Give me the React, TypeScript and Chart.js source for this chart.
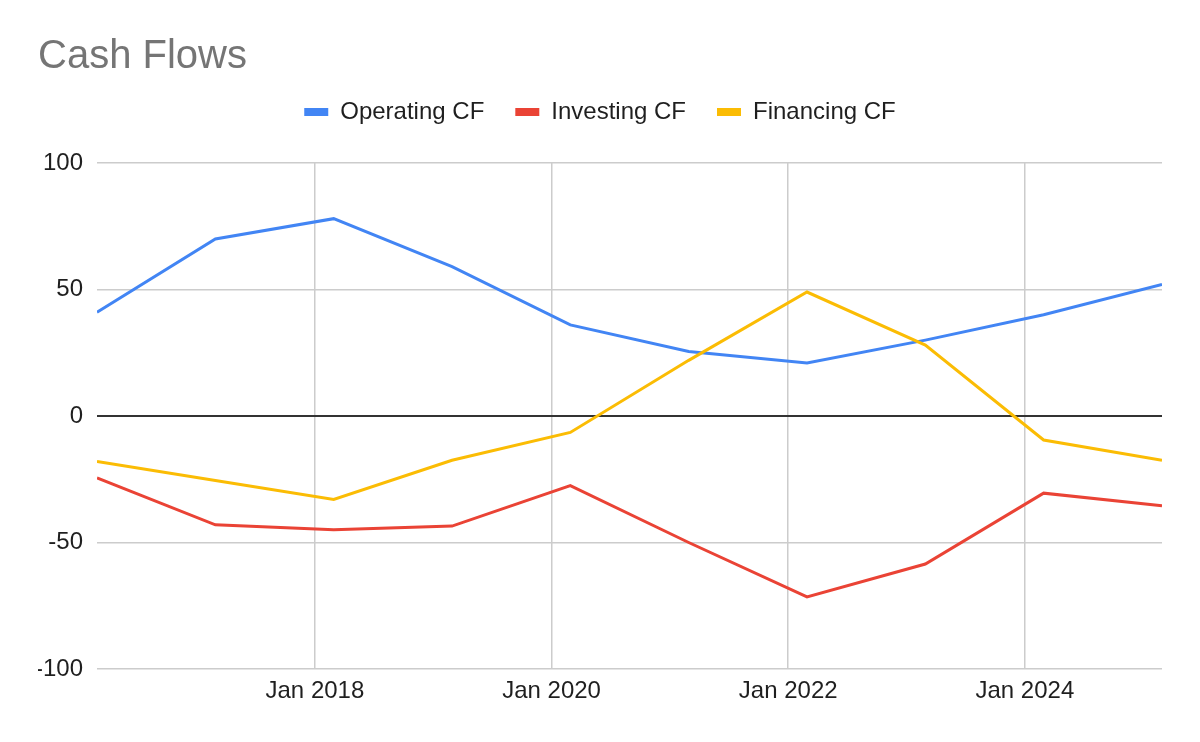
import { useEffect, useRef } from 'react';
import { Chart, registerables } from 'chart.js';

Chart.register(...registerables);

// fiscal year-end dates, one point per year
const periods = [
  '2016-02-28', '2017-02-28', '2018-02-28', '2019-02-28', '2020-02-28',
  '2021-02-28', '2022-02-28', '2023-02-28', '2024-02-28', '2025-02-28',
];
const operatingCF = [41, 70, 78, 59, 36, 25.5, 21, 30, 40, 52];
const investingCF = [-24.5, -43, -45, -43.5, -27.5, -50, -71.5, -58.5, -30.5, -35.5];
const financingCF = [-18, -25.5, -33, -17.5, -6.5, 22, 49, 28, -9.5, -17.5];

const xTickYears = [2018, 2020, 2022, 2024];
const xTickLabels = ['Jan 2018', 'Jan 2020', 'Jan 2022', 'Jan 2024'];
const yTicks = [-100, -50, 0, 50, 100];

const palette = {
  operating: '#4285f4',
  investing: '#ea4335',
  financing: '#fbbc04',
  grid: '#cccccc',
  zero: '#333333',
  text: '#1f1f1f',
  title: '#757575',
};

const FONT = '"Liberation Sans", Arial, sans-serif';

function toYear(iso: string): number {
  const [y, m, d] = iso.split('-').map(Number);
  const start = Date.UTC(y, 0, 1);
  const end = Date.UTC(y + 1, 0, 1);
  return y + (Date.UTC(y, m - 1, d) - start) / (end - start);
}

function points(values: number[]) {
  return values.map((v, i) => ({ x: toYear(periods[i]), y: v }));
}

export default function App(): JSX.Element {
  const canvasRef = useRef<HTMLCanvasElement | null>(null);

  useEffect(() => {
    document.body.style.margin = '0';
    if (!canvasRef.current) return;
    const context = canvasRef.current.getContext('2d');
    if (!context) return;

    const line = (label: string, values: number[], color: string, order: number) => ({
      label,
      data: points(values),
      borderColor: color,
      backgroundColor: color,
      borderWidth: 3,
      pointRadius: 0,
      pointHoverRadius: 0,
      tension: 0,
      order,
    });

    const chart = new Chart(context, {
      type: 'line',
      data: {
        datasets: [
          line('Operating CF', operatingCF, palette.operating, 3),
          line('Investing CF', investingCF, palette.investing, 2),
          line('Financing CF', financingCF, palette.financing, 1),
        ],
      },
      options: {
        responsive: false,
        animation: false,
        layout: { padding: { left: 38, right: 38, top: 0, bottom: 0 } },
        plugins: {
          title: {
            display: true,
            text: 'Cash Flows',
            align: 'start',
            color: palette.title,
            font: { family: FONT, size: 40, weight: 'normal', lineHeight: 0.6 },
            padding: { top: 45, bottom: 0 },
          },
          legend: {
            position: 'top',
            align: 'center',
            labels: {
              boxWidth: 24,
              boxHeight: 8,
              padding: 31,
              color: palette.text,
              font: { family: FONT, size: 24 },
              generateLabels: (c) =>
                Chart.defaults.plugins.legend.labels
                  .generateLabels(c)
                  .map((item) => ({ ...item, lineWidth: 0 })),
              sort: (a, b) => (a.datasetIndex ?? 0) - (b.datasetIndex ?? 0),
            },
          },
          // empty spacer between legend and plot
          subtitle: {
            display: true,
            text: '',
            weight: 500,
            padding: 0,
            font: { size: 29, lineHeight: 1 },
          } as any,
          tooltip: { enabled: false },
        },
        scales: {
          x: {
            type: 'linear',
            min: toYear(periods[0]),
            max: toYear(periods[periods.length - 1]),
            afterBuildTicks: (scale) => {
              scale.ticks = xTickYears.map((value) => ({ value }));
            },
            afterFit: (scale) => {
              scale.height = 73;
            },
            ticks: {
              color: palette.text,
              font: { family: FONT, size: 24 },
              padding: 8,
              maxRotation: 0,
              autoSkip: false,
              callback: (value) => xTickLabels[xTickYears.indexOf(Number(value))] ?? '',
            },
            grid: { color: palette.grid, lineWidth: 1.5, drawTicks: false },
            border: { display: false },
          },
          y: {
            min: -100,
            max: 100,
            afterBuildTicks: (scale) => {
              scale.ticks = yTicks.map((value) => ({ value }));
            },
            afterFit: (scale) => {
              scale.width = 59;
            },
            ticks: {
              color: palette.text,
              font: { family: FONT, size: 24 },
              padding: 14,
            },
            grid: {
              drawTicks: false,
              color: (ctx) => (ctx.tick && ctx.tick.value === 0 ? palette.zero : palette.grid),
              lineWidth: (ctx) => (ctx.tick && ctx.tick.value === 0 ? 2 : 1.5),
            },
            border: { display: false },
          },
        },
      },
    });

    return () => {
      chart.destroy();
    };
  }, []);

  return (
    <div style={{ width: 1200, height: 742 }}>
      <canvas ref={canvasRef} width={1200} height={742} style={{ display: 'block' }} />
    </div>
  );
}
